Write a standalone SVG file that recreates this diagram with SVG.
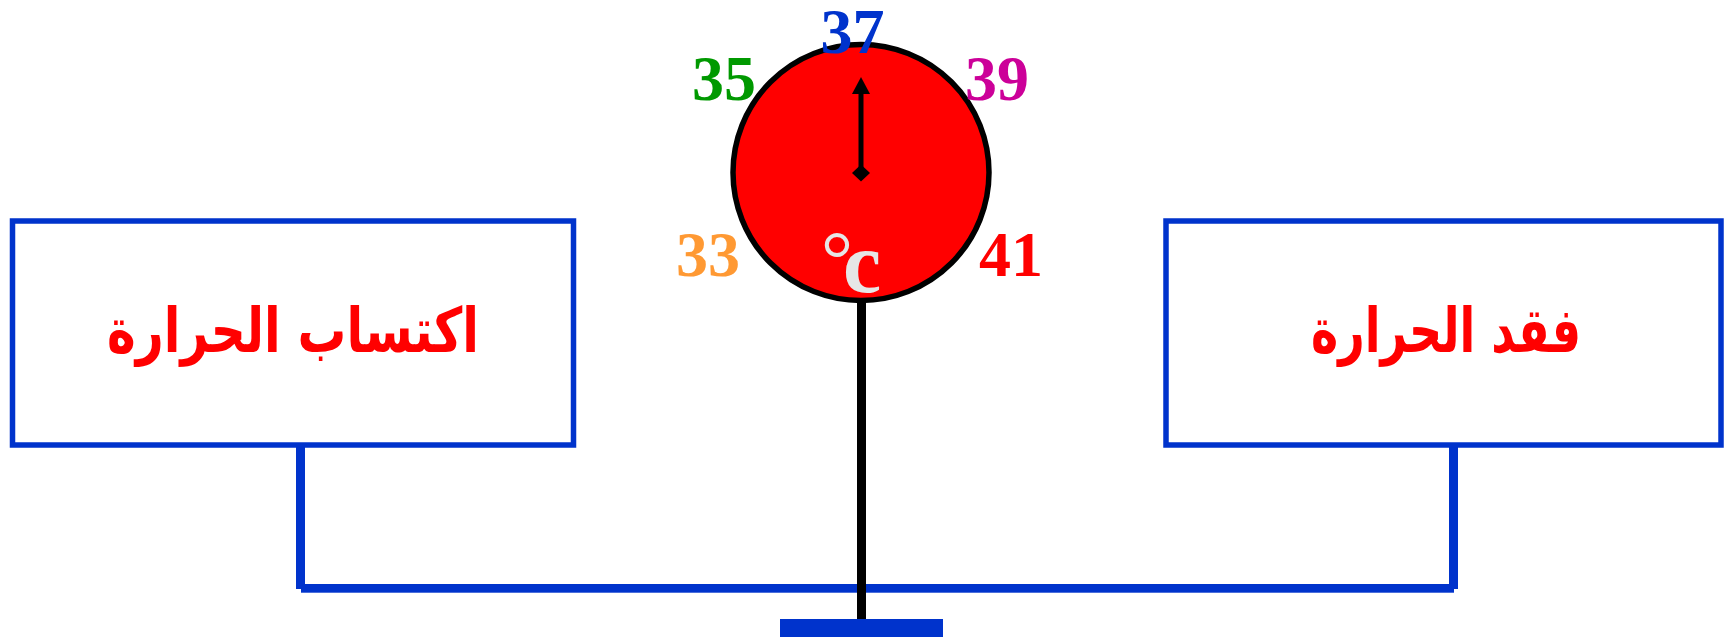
<svg xmlns="http://www.w3.org/2000/svg" width="1724" height="637" viewBox="0 0 1724 637">
<style>
.box{fill:#FFFFFF;stroke:#0033CC;stroke-width:5.5}
.ar{font-family:"DejaVu Sans",sans-serif;font-weight:bold;font-size:62px;fill:#FF0000;text-anchor:middle}
.num{font-family:"Liberation Serif","Times New Roman",serif;font-weight:bold;font-size:64px;text-anchor:middle}
.conn{fill:#0033CC}
</style>
<rect width="1724" height="637" fill="#FFFFFF"/>
<g id="connectors">
<rect class="conn" x="296" y="446" width="9" height="143"/>
<rect class="conn" x="1449" y="446" width="9" height="143"/>
<rect class="conn" x="301" y="584" width="1153" height="8.7"/>
</g>
<g id="gain">
<rect class="box" x="12.5" y="221" width="561" height="224"/>
<text class="ar" x="293" y="352" direction="rtl" textLength="372" lengthAdjust="spacingAndGlyphs">اكتساب الحرارة</text>
</g>
<g id="loss">
<rect class="box" x="1166" y="221" width="555" height="224"/>
<text class="ar" x="1446" y="352" direction="rtl" textLength="270" lengthAdjust="spacingAndGlyphs">فقد الحرارة</text>
</g>
<g id="thermometer">
<rect x="857" y="300" width="9" height="320" fill="#000000"/>
<rect x="780" y="619" width="163" height="18" fill="#0033CC"/>
<circle cx="861" cy="172.5" r="128" fill="#FF0000" stroke="#000000" stroke-width="5.5"/>
<rect x="858.5" y="92" width="5" height="80" fill="#000000"/>
<polygon points="861,77 870,94 852,94" fill="#000000"/>
<polygon points="861,164.5 870,173 861,181.5 852,173" fill="#000000"/>
<text class="num" x="852.5" y="53" fill="#0033CC">37</text>
<text class="num" x="724" y="100" fill="#009900">35</text>
<text class="num" x="997" y="100" fill="#CC0099">39</text>
<text class="num" x="708" y="276" fill="#FF9933">33</text>
<text class="num" x="1011" y="276" fill="#FF0000">41</text>
<text font-family="Liberation Serif,serif" fill="#E6E6E6"><tspan x="821" y="286" font-size="80">°</tspan><tspan x="843" y="292" font-weight="bold" font-size="86">c</tspan></text>
</g>
</svg>
